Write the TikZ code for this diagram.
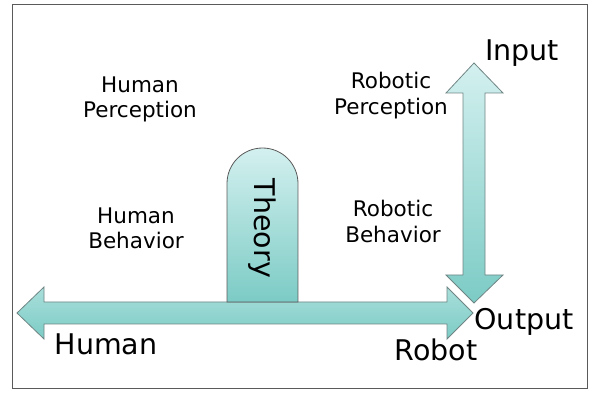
\documentclass[tikz,border=0pt]{standalone}
\usepackage{fontspec}
\setmainfont{DejaVu Sans}
\definecolor{lightteal}{HTML}{D3F0EF}
\definecolor{midteal}{HTML}{A9DFDB}
\definecolor{teal}{HTML}{7CCBC5}
\definecolor{edge}{HTML}{6F8584}
\definecolor{framec}{HTML}{5A5A5A}
\tikzset{
  arrowshape/.style={draw=edge, line width=0.8pt, line join=miter},
  bigtext/.style={font=\fontsize{28.5}{34}\selectfont, inner sep=0pt, anchor=base},
  smalltext/.style={font=\fontsize{21.5}{25.5}\selectfont, inner sep=0pt, anchor=base, align=center},
}
\begin{document}
\begin{tikzpicture}[x=1pt, y=-1pt]
\useasboundingbox (0,0) rectangle (590,393);
\draw[framec, line width=1pt] (12,5) rectangle (587,388);

% vertical arrow
\draw[arrowshape, top color=lightteal, bottom color=teal]
  (474,63) -- (503,93) -- (485,93) -- (485,275) -- (503,275) -- (474,303)
  -- (446,275) -- (463,275) -- (463,93) -- (446,93) -- cycle;

% horizontal arrow
\path[draw=white, line width=4pt, line join=miter]
  (17,313) -- (44,287) -- (44,302) -- (447,302) -- (447,287) -- (473,313)
  -- (447,339) -- (447,324) -- (44,324) -- (44,339) -- cycle;
\draw[arrowshape, top color=midteal, middle color=lightteal, bottom color=teal]
  (17,313) -- (44,287) -- (44,302) -- (447,302) -- (447,287) -- (473,313)
  -- (447,339) -- (447,324) -- (44,324) -- (44,339) -- cycle;

% theory box
\draw[draw=framec, line width=0.8pt, top color=lightteal, bottom color=teal]
  (227,302) -- (227,183.5) arc[start angle=180, end angle=360, radius=35.5]
  -- (298,302) -- cycle;
\node[bigtext, rotate=-90] (theory) at (254,228.5) {Theory};

% labels
\node[bigtext] (input) at (522,61) {Input};
\node[bigtext] (output) at (524,330) {Output};
\node[bigtext] (human) at (106,355) {Human};
\node[bigtext] (robot) at (436,360) {Robot};
\node[smalltext] (hp) at (140,118) {Human\\Perception};
\node[smalltext] (rp) at (391,114.5) {Robotic\\Perception};
\node[smalltext] (hb) at (136,249) {Human\\Behavior};
\node[smalltext] (rb) at (393,242.5) {Robotic\\Behavior};
\end{tikzpicture}
\end{document}
